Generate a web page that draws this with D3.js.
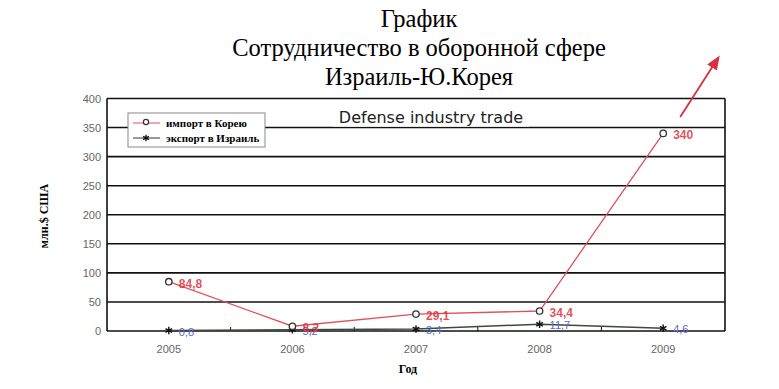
<!DOCTYPE html>
<html>
<head>
<meta charset="utf-8">
<script src="https://cdn.jsdelivr.net/npm/d3@7"></script>
<style>
  body { margin: 0; background: #fff; }
  svg { display: block; }
  .ytick text, .xtick text { font-family: "Liberation Sans", Arial, sans-serif; fill: #666; font-size: 11px; }
</style>
</head>
<body>
<div id="chart"><svg></svg></div>
<script>
// данные
var years = ["2005", "2006", "2007", "2008", "2009"];
var importKorea = [84.8, 8.2, 29.1, 34.4, 340];
var exportIsrael = [0.8, 2.3, 3.4, 11.7, 4.6];
var importLabels = ["84,8", "8,2", "29,1", "34,4", "340"];
var exportLabels = ["0,8", "5,2", "3,4", "11,7", "4,6"];
var yTicks = [0, 50, 100, 150, 200, 250, 300, 350, 400];
var titleLines = ["График", "Сотрудничество в оборонной сфере", "Израиль-Ю.Корея"];

var W = 779, H = 389;
var L = 107, R = 725, T = 98.5, B = 331;

var svg = d3.select("#chart svg").attr("width", W).attr("height", H);

var x = d3.scaleBand().domain(years).range([L, R]);
var y = d3.scaleLinear().domain([0, 400]).range([B, T]);
var cx = function(d, i) { return x(years[i]) + x.bandwidth() / 2; };

// заголовок
svg.append("g").selectAll("text").data(titleLines).enter()
    .append("text")
    .attr("x", 419)
    .attr("y", function(d, i) { return 27 + i * 29; })
    .attr("text-anchor", "middle")
    .style("font-family", "Liberation Serif, Times New Roman, serif")
    .style("font-size", "24.5px")
    .text(function(d) { return d; });

// сетка
var gGrid = svg.append("g");
gGrid.selectAll("line").data(yTicks).enter()
    .append("line")
    .attr("x1", L).attr("x2", R)
    .attr("y1", function(d) { return y(d); })
    .attr("y2", function(d) { return y(d); })
    .attr("stroke", "#111")
    .attr("stroke-width", 1.6);
gGrid.append("line")
    .attr("x1", L).attr("x2", L).attr("y1", T).attr("y2", B)
    .attr("stroke", "#111").attr("stroke-width", 1.6);
gGrid.append("line")
    .attr("x1", R).attr("x2", R).attr("y1", T).attr("y2", B)
    .attr("stroke", "#111").attr("stroke-width", 1.6);

// оси
svg.append("g")
    .attr("class", "ytick")
    .attr("transform", "translate(" + (L - 6) + ",0)")
    .call(d3.axisLeft(y).tickValues(yTicks).tickSize(0).tickPadding(0))
    .call(function(g) { g.select(".domain").remove(); });

var gx = svg.append("g")
    .attr("class", "xtick")
    .attr("transform", "translate(0," + B + ")")
    .call(d3.axisBottom(x).tickSize(0).tickPadding(14));
gx.select(".domain").remove();
// засечки между категориями
svg.append("g").selectAll("line").data(years.slice(1)).enter()
    .append("line")
    .attr("x1", function(d) { return x(d); })
    .attr("x2", function(d) { return x(d); })
    .attr("y1", B).attr("y2", B - 4)
    .attr("stroke", "#111");

// подпись Defense industry trade
svg.append("rect")
    .attr("x", 333).attr("y", y(385)).attr("width", 196).attr("height", y(350) - y(385) - 1)
    .attr("fill", "#fff");
svg.append("text")
    .attr("x", 431).attr("y", y(357))
    .attr("text-anchor", "middle")
    .style("font-family", "DejaVu Sans, sans-serif")
    .style("font-size", "16px")
    .attr("fill", "#222")
    .text("Defense industry trade");

// линии
var line = d3.line()
    .x(function(d, i) { return cx(d, i); })
    .y(function(d) { return y(d); });

svg.append("path").datum(exportIsrael)
    .attr("d", line).attr("fill", "none")
    .attr("stroke", "#3b4a3b").attr("stroke-width", 1.5);
svg.append("path").datum(importKorea)
    .attr("d", line).attr("fill", "none")
    .attr("stroke", "#e0505a").attr("stroke-width", 1.3);

// маркеры
var star = d3.symbol().type(d3.symbolAsterisk).size(40);
svg.append("g").selectAll("path").data(exportIsrael).enter()
    .append("path")
    .attr("d", star)
    .attr("transform", function(d, i) { return "translate(" + cx(d, i) + "," + y(d) + ")"; })
    .attr("stroke", "#111").attr("stroke-width", 1.4).attr("fill", "none");
svg.append("g").selectAll("circle").data(importKorea).enter()
    .append("circle")
    .attr("cx", cx).attr("cy", function(d) { return y(d); })
    .attr("r", 3.2)
    .attr("fill", "#fff").attr("stroke", "#333").attr("stroke-width", 1.3);

// подписи значений
svg.append("g").selectAll("text").data(exportIsrael).enter()
    .append("text")
    .attr("x", function(d, i) { return cx(d, i) + 10; })
    .attr("y", function(d) { return y(d) + 5; })
    .style("font-family", "Liberation Sans, Arial, sans-serif")
    .style("font-size", "11px")
    .attr("fill", "#5a6acc")
    .text(function(d, i) { return exportLabels[i]; });
svg.append("g").selectAll("text").data(importKorea).enter()
    .append("text")
    .attr("x", function(d, i) { return cx(d, i) + 10; })
    .attr("y", function(d) { return y(d) + 6; })
    .style("font-family", "Liberation Sans, Arial, sans-serif")
    .style("font-size", "12px")
    .style("font-weight", "bold")
    .attr("fill", "#e0303a")
    .attr("fill-opacity", 0.85)
    .text(function(d, i) { return importLabels[i]; });

// стрелка
svg.append("defs").append("marker")
    .attr("id", "arr")
    .attr("viewBox", "0 0 10 10")
    .attr("refX", 8).attr("refY", 5)
    .attr("markerWidth", 8).attr("markerHeight", 8)
    .attr("orient", "auto")
    .append("path").attr("d", "M0,1 L10,5 L0,9 Z").attr("fill", "#d83040");
var x9 = x("2009") + x.bandwidth() / 2;
svg.append("line")
    .attr("x1", x9 + 17).attr("y1", y(368))
    .attr("x2", x9 + 55).attr("y2", y(470))
    .attr("stroke", "#d83040").attr("stroke-width", 1.8)
    .attr("marker-end", "url(#arr)");

// легенда
var gLeg = svg.append("g").attr("transform", "translate(128,113)");
gLeg.append("rect")
    .attr("width", 137).attr("height", 34)
    .attr("fill", "#fff").attr("stroke", "#888");
var legItems = [
    { name: "импорт в Корею", color: "#e0505a" },
    { name: "экспорт в Израиль", color: "#333" }
];
legItems.forEach(function(d, i) {
    var yy = 10 + i * 15;
    gLeg.append("line").attr("x1", 5).attr("x2", 32).attr("y1", yy).attr("y2", yy)
        .attr("stroke", d.color).attr("stroke-width", 1);
    if (i === 0) {
        gLeg.append("circle").attr("cx", 18).attr("cy", yy - 1).attr("r", 2.6)
            .attr("fill", "#fff").attr("stroke", "#333").attr("stroke-width", 1.2);
    } else {
        gLeg.append("path").attr("d", d3.symbol().type(d3.symbolAsterisk).size(30))
            .attr("transform", "translate(18," + yy + ")")
            .attr("stroke", "#111").attr("stroke-width", 1.3);
    }
    gLeg.append("text")
        .attr("x", 38).attr("y", yy + 4)
        .style("font-family", "Liberation Serif, Times New Roman, serif")
        .style("font-size", "11px")
        .style("font-weight", "bold")
        .text(d.name);
});

// подписи осей
svg.append("text")
    .attr("x", 408).attr("y", 373)
    .attr("text-anchor", "middle")
    .style("font-family", "Liberation Serif, Times New Roman, serif")
    .style("font-size", "12px")
    .style("font-weight", "bold")
    .text("Год");
svg.append("text")
    .attr("transform", "translate(48,216) rotate(-90)")
    .attr("text-anchor", "middle")
    .style("font-family", "Liberation Serif, Times New Roman, serif")
    .style("font-size", "12px")
    .style("font-weight", "bold")
    .text("млн.$ США");
</script>
</body>
</html>
